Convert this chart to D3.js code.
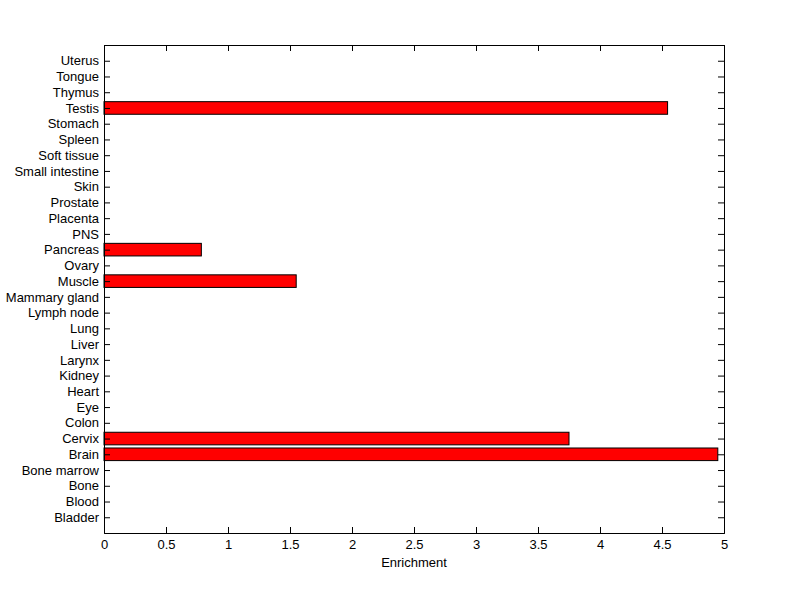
<!DOCTYPE html>
<html>
<head>
<meta charset="utf-8">
<script src="https://cdn.jsdelivr.net/npm/d3@7"></script>
<style>
body { margin: 0; background: #fff; }
text { font-family: "Liberation Sans", Arial, sans-serif; font-size: 13px; fill: #000; }
</style>
</head>
<body>
<div id="canvas"></div>
<script>
var tissues = ['Bladder', 'Blood', 'Bone', 'Bone marrow', 'Brain', 'Cervix', 'Colon', 'Eye',
    'Heart', 'Kidney', 'Larynx', 'Liver', 'Lung', 'Lymph node', 'Mammary gland', 'Muscle',
    'Ovary', 'Pancreas', 'PNS', 'Placenta', 'Prostate', 'Skin', 'Small intestine',
    'Soft tissue', 'Spleen', 'Stomach', 'Testis', 'Thymus', 'Tongue', 'Uterus'];
var enrichment = [0, 0, 0, 0, 4.95, 3.75, 0, 0,
    0, 0, 0, 0, 0, 0, 0, 1.55,
    0, 0.785, 0, 0, 0, 0, 0,
    0, 0, 0, 4.545, 0, 0, 0];
var xTicks = [0, 0.5, 1, 1.5, 2, 2.5, 3, 3.5, 4, 4.5, 5];

var canvasWidth = 800, canvasHeight = 599;
var margin = {t:45, r:76, b:66, l:104};

var svg = d3.select('#canvas')
    .append('svg')
    .attr('width', canvasWidth)
    .attr('height', canvasHeight);

var x = d3.scaleLinear().domain([0, 5]).range([margin.l, canvasWidth - margin.r]);
var y = d3.scaleLinear().domain([0, tissues.length + 1]).range([canvasHeight - margin.b, margin.t]);
var barH = Math.abs(y(0.8) - y(0));

// bars, one per tissue, zero-valued ones are skipped
var bars = tissues.map(function(t, i){ return {name: t, pos: i + 1, val: enrichment[i]}; })
    .filter(function(d){ return d.val > 0; });

svg.selectAll('rect.bar')
    .data(bars)
    .enter()
    .append('rect')
    .attr('class', 'bar')
    .attr('x', x(0))
    .attr('y', function(d){ return y(d.pos) - barH/2; })
    .attr('width', function(d){ return x(d.val) - x(0); })
    .attr('height', barH)
    .style('fill', '#ff0000')
    .style('stroke', '#000')
    .style('stroke-width', 1);

// axes
var yTickVals = d3.range(1, tissues.length + 1);
svg.append('g')
    .attr('transform', 'translate(' + x(0) + ',0)')
    .call(d3.axisLeft(y).tickValues(yTickVals).tickSize(-6).tickPadding(5)
        .tickFormat(function(d){ return tissues[d - 1]; }));
svg.append('g')
    .attr('transform', 'translate(' + x(5) + ',0)')
    .call(d3.axisRight(y).tickValues(yTickVals).tickSize(-6).tickFormat(''));
svg.append('g')
    .attr('transform', 'translate(0,' + y(0) + ')')
    .call(d3.axisBottom(x).tickValues(xTicks).tickSize(-6).tickPadding(7)
        .tickFormat(d3.format('')));
svg.append('g')
    .attr('transform', 'translate(0,' + y(tissues.length + 1) + ')')
    .call(d3.axisTop(x).tickValues(xTicks).tickSize(-6).tickFormat(''));

svg.selectAll('.domain').attr('stroke', '#000');
svg.selectAll('.tick line').attr('stroke', '#000');
svg.selectAll('.tick text').style('font-size', '13px');

svg.append('text')
    .attr('x', (x(0) + x(5)) / 2)
    .attr('y', 567)
    .attr('text-anchor', 'middle')
    .text('Enrichment');
</script>
</body>
</html>
